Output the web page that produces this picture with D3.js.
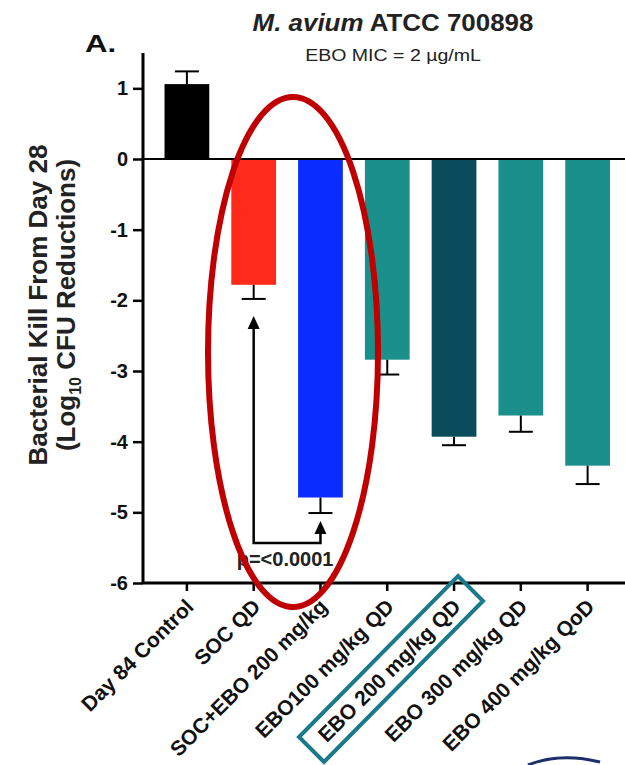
<!DOCTYPE html>
<html><head><meta charset="utf-8">
<script src="https://cdn.jsdelivr.net/npm/d3@7"></script>
<style>body{margin:0;background:#fff}text{font-family:"Liberation Sans",Arial,sans-serif}</style>
</head><body>
<svg id="c" width="625" height="765"></svg>
<script>
const categories = ["Day 84 Control","SOC QD","SOC+EBO 200 mg/kg","EBO100 mg/kg QD","EBO 200 mg/kg QD","EBO 300 mg/kg QD","EBO 400 mg/kg QoD"];
const values = [1.06, -1.78, -4.79, -2.84, -3.93, -3.63, -4.34];
const errors = [0.18, 0.2, 0.22, 0.21, 0.12, 0.23, 0.26];
const colors = ["#000000","#ff2a1a","#0a2cff","#1a8f8c","#0a4b5c","#1a8f8c","#1a8f8c"];
const yTicks = [1,0,-1,-2,-3,-4,-5,-6];

const svg = d3.select("#c");
const y = d3.scaleLinear().domain([-6,1.5]).range([583,53]);
const x = d3.scaleBand().domain(categories).range([153.5,621]).paddingInner(0.33).paddingOuter(0.165);
const ax = 143;

// bars
svg.append("g").selectAll("rect").data(categories).join("rect")
  .attr("x", d=>x(d)).attr("width", x.bandwidth())
  .attr("y", (d,i)=>y(Math.max(0,values[i])))
  .attr("height", (d,i)=>Math.abs(y(values[i])-y(0)))
  .attr("fill", (d,i)=>colors[i]);

// error bars (one-sided)
const eg = svg.append("g").attr("stroke","#000").attr("stroke-width",2);
categories.forEach((d,i)=>{
  const cx = x(d)+x.bandwidth()/2;
  const v = values[i], e = values[i] >= 0 ? values[i]+errors[i] : values[i]-errors[i];
  eg.append("line").attr("x1",cx).attr("x2",cx).attr("y1",y(v)).attr("y2",y(e));
  eg.append("line").attr("x1",cx-12).attr("x2",cx+12).attr("y1",y(e)).attr("y2",y(e));
});

// zero line
svg.append("line").attr("x1",ax).attr("x2",625).attr("y1",y(0)).attr("y2",y(0)).attr("stroke","#000").attr("stroke-width",2);

// y axis
const yAxis = d3.axisLeft(y).tickValues(yTicks).tickSize(10).tickFormat(d=>String(d));
const gy = svg.append("g").attr("transform",`translate(${ax},0)`).call(yAxis);
gy.select(".domain").attr("stroke-width",3).attr("d",`M0,${y(1.5)}V${y(-6)}`);
gy.selectAll(".tick line").attr("stroke-width",2.5);
gy.selectAll(".tick text").attr("font-size",20).attr("font-weight","bold").attr("x",-15).attr("fill","#111");

// x axis
const xAxis = d3.axisBottom(x).tickSize(8).tickFormat(d=>d);
const gx = svg.append("g").attr("transform",`translate(0,${y(-6)})`).call(xAxis);
gx.select(".domain").attr("stroke-width",3).attr("d",`M${ax},0H625`);
gx.selectAll(".tick line").attr("stroke-width",2.5);
gx.selectAll(".tick text").attr("font-size",21).attr("font-weight","bold").attr("fill","#111")
  .attr("text-anchor","end").attr("dy",0).attr("y",0)
  .attr("transform","translate(8,25) rotate(-45)");

// annotation arrow
const c1 = x(categories[1])+x.bandwidth()/2, c2 = x(categories[2])+x.bandwidth()/2;
const yb = 543;
svg.append("path").attr("d",`M${c1},${y(-2.3)}V${yb}H${c2}V${y(-5.25)}`).attr("fill","none").attr("stroke","#000").attr("stroke-width",2.5);
function arrow(cx, tip){ svg.append("path").attr("d",`M${cx},${tip}L${cx-6},${tip+13}L${cx+6},${tip+13}Z`).attr("fill","#000"); }
arrow(c1, 316); arrow(c2, 521);
svg.append("text").attr("x",(c1+c2)/2 - 2).attr("y",566).attr("text-anchor","middle").attr("font-size",20).attr("font-weight","bold").attr("fill","#222").text("p=<0.0001");

// titles
const t = svg.append("text").attr("transform","translate(393,31) scale(1.08,1)").attr("text-anchor","middle").attr("font-size",24).attr("font-weight","bold").attr("fill","#222");
t.append("tspan").attr("font-style","italic").text("M. avium");
t.append("tspan").text(" ATCC 700898");
svg.append("text").attr("transform","translate(393,61) scale(1.15,1)").attr("text-anchor","middle").attr("font-size",17).attr("fill","#222").text("EBO MIC = 2 µg/mL");
svg.append("text").attr("transform","translate(85,52) scale(1.3,1)").attr("font-size",24).attr("font-weight","bold").attr("fill","#111").text("A.");

// y axis title
const yt = svg.append("text").attr("transform","translate(47,305) rotate(-90)").attr("text-anchor","middle").attr("font-size",26).attr("font-weight","bold").attr("fill","#222");
yt.append("tspan").attr("x",0).attr("dy",0).text("Bacterial Kill From Day 28");
const l2 = yt.append("tspan").attr("x",0).attr("dy",28);
l2.append("tspan").text("(Log");
l2.append("tspan").attr("font-size",16).attr("dy",6).text("10");
l2.append("tspan").attr("dy",-6).text(" CFU Reductions)");

// highlight ellipse
svg.append("ellipse").attr("cx",293).attr("cy",352).attr("rx",85).attr("ry",255).attr("fill","none").attr("stroke","#c00000").attr("stroke-width",6);

// highlight box
svg.append("path").attr("d","M458,576L483,601L324,762L299,737Z").attr("fill","none").attr("stroke","#1a7a8a").attr("stroke-width",4);

// partial arc at bottom right
svg.append("path").attr("d","M528,765Q560,752 600,762").attr("fill","none").attr("stroke","#1b2f6b").attr("stroke-width",3);
</script>
</body></html>
